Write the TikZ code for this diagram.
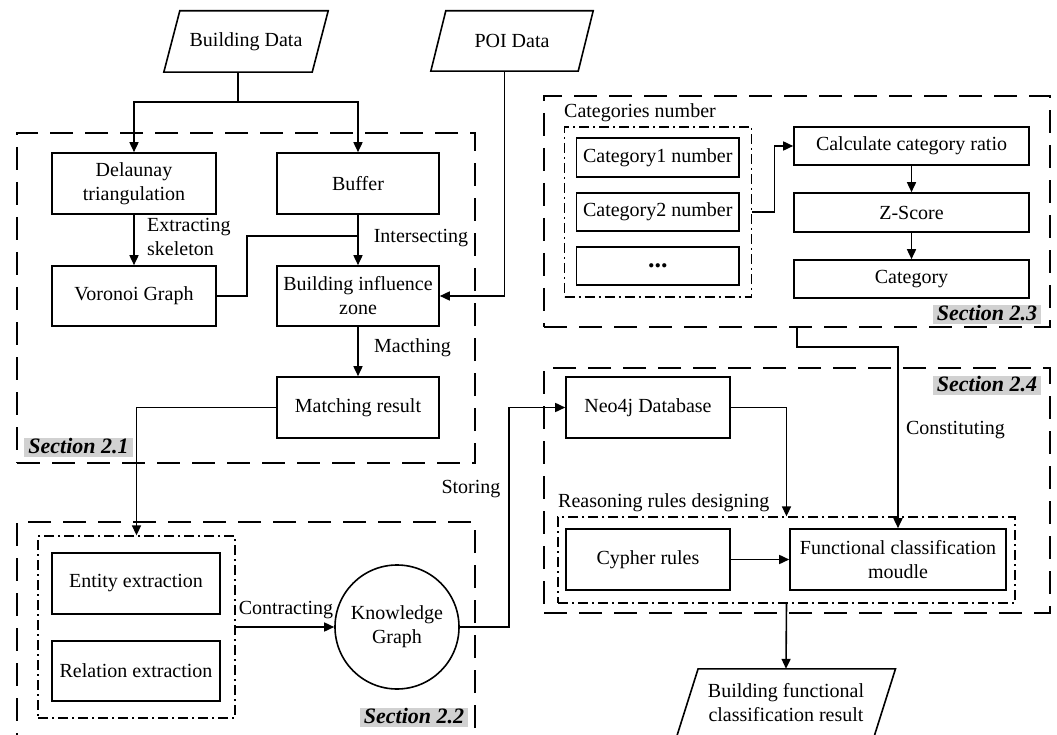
\documentclass[tikz,border=0pt]{standalone}
\usepackage{fontspec}
\setmainfont{Liberation Serif}
\usetikzlibrary{arrows.meta}
\begin{document}
\begin{tikzpicture}[x=1pt,y=-1pt,
  every node/.style={font=\fontsize{20}{24}\selectfont},
  ln/.style={line width=1.6pt},
  box/.style={draw, line width=1.6pt, inner sep=0pt, align=center},
  secbox/.style={draw, line width=1.5pt, dash pattern=on 23pt off 12pt, inner sep=0pt},
  grpbox/.style={draw, line width=1.3pt, dash pattern=on 10pt off 4pt on 2pt off 4pt, inner sep=0pt},
  arr/.style={line width=1.6pt, -{Triangle[length=10pt,width=9pt]}},
  lbl/.style={inner sep=0pt, align=left},
  sect/.style={fill=black!18, inner xsep=4pt, inner ysep=0.5pt, text height=15pt, text depth=3pt,
    font=\fontsize{22}{24}\selectfont\bfseries\itshape},
]
\useasboundingbox (0,0) rectangle (1057,735);
\clip (0,0) rectangle (1057,735);

% section frames
\node[secbox, minimum width=458, minimum height=330] (s21) at (246,298) {};
\node[secbox, minimum width=458, minimum height=238] (s22) at (246,641) {};
\node[secbox, minimum width=506, minimum height=231] (s23) at (797,211.5) {};
\node[secbox, minimum width=506, minimum height=245] (s24) at (797,490.5) {};

% grouped sub-steps
\node[grpbox, minimum width=197, minimum height=182] (eg) at (136.5,627) {};
\node[grpbox, minimum width=187, minimum height=170] (cg) at (658,212) {};
\node[grpbox, minimum width=457, minimum height=86] (rr) at (786.5,560) {};

% input / output data
\node[lbl, align=center, minimum width=148, minimum height=61] (bd) at (246,41.5) {Building Data};
\draw[ln] ([xshift=8pt]bd.north west) -- ([xshift=8pt]bd.north east)
  -- ([xshift=-8pt]bd.south east) -- ([xshift=-8pt]bd.south west) -- cycle;
\node[lbl, align=center, minimum width=147, minimum height=60] (poi) at (512,41) {POI Data};
\draw[ln] ([xshift=7.5pt]poi.north west) -- ([xshift=7.5pt]poi.north east)
  -- ([xshift=-7.5pt]poi.south east) -- ([xshift=-7.5pt]poi.south west) -- cycle;
\node[lbl, align=center, minimum width=197, minimum height=68] (res) at (786,703)
  {Building functional\\classification result};
\draw[ln] ([xshift=10.8pt]res.north west) -- ([xshift=10.8pt]res.north east)
  -- ([xshift=-10.8pt]res.south east) -- ([xshift=-10.8pt]res.south west) -- cycle;

% Section 2.1
\node[box, minimum width=164, minimum height=61] (del) at (134,183.5) {Delaunay\\triangulation};
\node[box, minimum width=162, minimum height=61] (buf) at (358,183.5) {Buffer};
\node[box, minimum width=164, minimum height=60] (vor) at (134,296) {Voronoi Graph};
\node[box, minimum width=162, minimum height=60] (biz) at (358,296) {Building influence\\zone};
\node[box, minimum width=162, minimum height=61] (mr) at (358,407.5) {Matching result};

% Section 2.2
\node[box, minimum width=168, minimum height=61] (ee) at (136,583.5) {Entity extraction};
\node[box, minimum width=168, minimum height=60] (re) at (136,671) {Relation extraction};
\node[box, circle, minimum size=124] (kg) at (397,627) {Knowledge\\Graph};

% Section 2.3
\node[box, minimum width=162.5, minimum height=39] (c1) at (657.75,157.5) {Category1 number};
\node[box, minimum width=162.5, minimum height=38] (c2) at (657.75,212) {Category2 number};
\node[box, minimum width=162.5, minimum height=38] (c3) at (657.75,266)
  {\fontsize{26}{26}\selectfont\textbf{...}};
\node[box, minimum width=235, minimum height=38] (calc) at (911.5,146) {Calculate category ratio};
\node[box, minimum width=235, minimum height=39] (zs) at (911.5,212.5) {Z-Score};
\node[box, minimum width=235, minimum height=38] (cat) at (911.5,279) {Category};

% Section 2.4
\node[box, minimum width=164, minimum height=61] (neo) at (648,407.5) {Neo4j Database};
\node[box, minimum width=164, minimum height=61] (cy) at (648,559.5) {Cypher rules};
\node[box, minimum width=216, minimum height=61] (func) at (898,559.5) {Functional classification\\moudle};

% connectors
\coordinate (bdb) at ([xshift=-8pt]bd.south);
\coordinate (split) at ([yshift=-30pt]bdb);
\draw[ln] (bdb) -- (split);
\draw[arr] (split) -| (del.north);
\draw[arr] (split) -| (buf.north);
\draw[arr] (del) -- (vor);
\draw[arr] (buf) -- (biz);
\draw[ln] (vor.east) -- ++(30,0) |- ([yshift=-21pt]buf.south);
\coordinate (poib) at ([xshift=-7.5pt]poi.south);
\draw[arr] (poib) |- (biz.east);
\draw[arr] (biz) -- (mr);
\draw[arr] (mr.west) -| (eg.north);
\draw[arr] (eg.east) -- (kg.west);
\draw[arr] (kg.east) -- ++(49,0) |- (neo.west);
\draw[arr] (cg.east) -- ++(22.5,0) |- (calc.west);
\draw[arr] (calc) -- (zs);
\draw[arr] (zs) -- (cat);
\draw[arr] (s23.south) -- ++(0,19) -| (func.north);
\draw[arr] (neo.east) -| (rr.north);
\draw[arr] (cy) -- (func);
\draw[arr] (rr.south) -- (res.north);

% connector and group labels
\node[lbl, anchor=west] (t1) at (147,236.5) {Extracting\\skeleton};
\node[lbl] (t2) at (421,238) {Intersecting};
\node[lbl] (t3) at (412.5,348) {Macthing};
\node[lbl] (t4) at (286,610) {Contracting};
\node[lbl] (t5) at (471,489) {Storing};
\node[lbl] (t6) at (955.5,430) {Constituting};
\node[lbl, anchor=west] (t7) at (564,113) {Categories number};
\node[lbl, anchor=west] (t8) at (558,503) {Reasoning rules designing};

% section tags
\node[sect] (l21) at (78.5,447.5) {Section 2.1};
\node[sect] (l22) at (414,717.5) {Section 2.2};
\node[sect] (l23) at (987,314.5) {Section 2.3};
\node[sect] (l24) at (987,385) {Section 2.4};
\end{tikzpicture}
\end{document}
